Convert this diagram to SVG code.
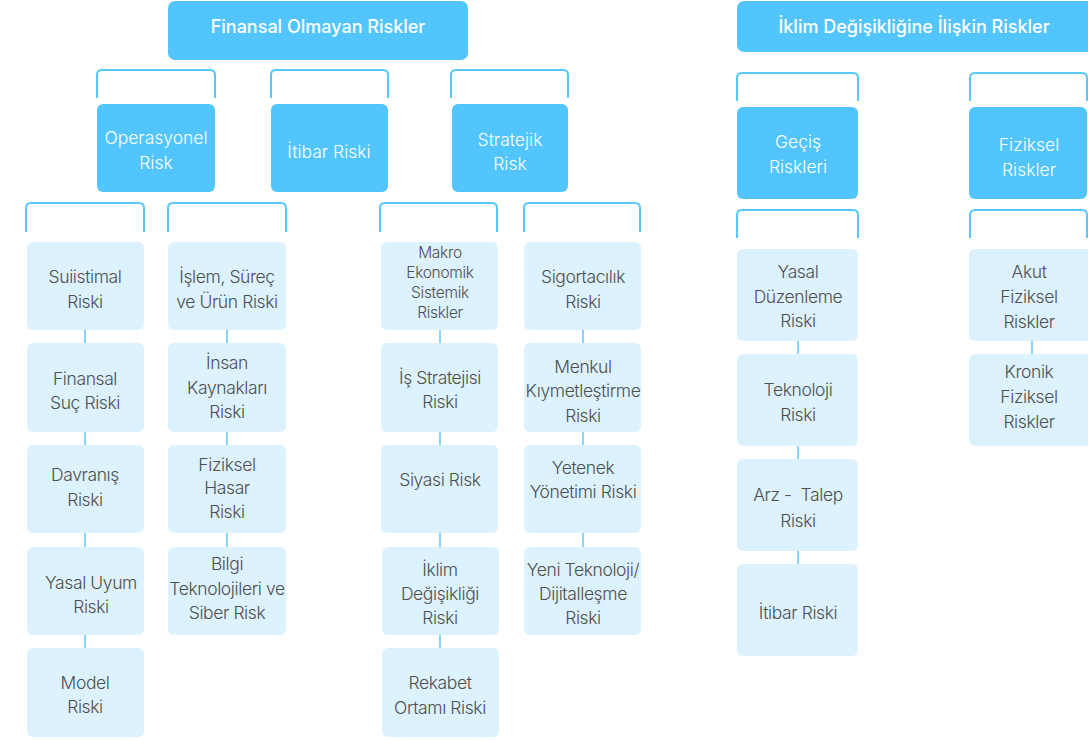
<svg xmlns="http://www.w3.org/2000/svg" width="1088" height="740" viewBox="0 0 1088 740">
<style>
.hd{fill:#52c5fe}
.lt{fill:#dcf2fe}
.br{fill:none;stroke:#5ac7fb;stroke-width:2}
.cn{stroke:#86d6fa;stroke-width:2}
text{font-family:Inter,"Liberation Sans",sans-serif;text-anchor:middle}
.ht{fill:#ffffff;font-size:18px;font-weight:500}
.wt{fill:#ffffff;font-size:17.5px;font-weight:300}
.dt{fill:#4f4f4f;font-size:17.5px;font-weight:300;letter-spacing:-0.4px}
.st{fill:#4f4f4f;font-size:15.5px;font-weight:300;letter-spacing:-0.3px}
</style>
<rect width="1088" height="740" fill="#ffffff"/>
<g id="connectors">
<path class="br" d="M97 98V75Q97 70 102 70H210Q215 70 215 75V98"/>
<path class="br" d="M271 98V75Q271 70 276 70H383Q388 70 388 75V98"/>
<path class="br" d="M451 98V75Q451 70 456 70H563Q568 70 568 75V98"/>
<path class="br" d="M737 101V78Q737 73 742 73H853Q858 73 858 78V101"/>
<path class="br" d="M970 101V78Q970 73 975 73H1082Q1087 73 1087 78V101"/>
<path class="br" d="M26 232V208Q26 203 31 203H139Q144 203 144 208V232"/>
<path class="br" d="M168 232V208Q168 203 173 203H281Q286 203 286 208V232"/>
<path class="br" d="M380 232V208Q380 203 385 203H492Q497 203 497 208V232"/>
<path class="br" d="M524 232V208Q524 203 529 203H635Q640 203 640 208V232"/>
<path class="br" d="M737 238V215Q737 210 742 210H853Q858 210 858 215V238"/>
<path class="br" d="M970 238V215Q970 210 975 210H1082Q1087 210 1087 215V238"/>
<line class="cn" x1="85" y1="330" x2="85" y2="343"/>
<line class="cn" x1="85" y1="432" x2="85" y2="445"/>
<line class="cn" x1="85" y1="533" x2="85" y2="547"/>
<line class="cn" x1="85" y1="635" x2="85" y2="648"/>
<line class="cn" x1="227" y1="330" x2="227" y2="343"/>
<line class="cn" x1="227" y1="432" x2="227" y2="445"/>
<line class="cn" x1="227" y1="533" x2="227" y2="547"/>
<line class="cn" x1="440" y1="330" x2="440" y2="343"/>
<line class="cn" x1="440" y1="432" x2="440" y2="445"/>
<line class="cn" x1="440" y1="533" x2="440" y2="547"/>
<line class="cn" x1="440" y1="635" x2="440" y2="648"/>
<line class="cn" x1="583" y1="330" x2="583" y2="343"/>
<line class="cn" x1="583" y1="432" x2="583" y2="445"/>
<line class="cn" x1="583" y1="533" x2="583" y2="547"/>
<line class="cn" x1="798" y1="341" x2="798" y2="354"/>
<line class="cn" x1="798" y1="446" x2="798" y2="459"/>
<line class="cn" x1="798" y1="551" x2="798" y2="564"/>
<line class="cn" x1="1032" y1="341" x2="1032" y2="354"/>
</g>
<g id="n-finansal-olmayan"><rect class="hd" x="168" y="1" width="300" height="59" rx="7"/><text class="ht" x="318" y="33">Finansal Olmayan Riskler</text></g>
<g id="n-iklim"><rect class="hd" x="737" y="1" width="358" height="51" rx="7"/><text class="ht" x="914" y="33">İklim Değişikliğine İlişkin Riskler</text></g>
<g id="n-operasyonel"><rect class="hd" x="97" y="104" width="118" height="88" rx="6"/><text class="wt" x="156" y="144">Operasyonel</text><text class="wt" x="156" y="169">Risk</text></g>
<g id="n-itibar"><rect class="hd" x="271" y="104" width="117" height="88" rx="6"/><text class="wt" x="329" y="158">İtibar Riski</text></g>
<g id="n-stratejik"><rect class="hd" x="452" y="104" width="116" height="88" rx="6"/><text class="wt" x="510" y="146">Stratejik</text><text class="wt" x="510" y="170">Risk</text></g>
<g id="n-gecis"><rect class="hd" x="737" y="107" width="121" height="92" rx="6"/><text class="wt" x="798" y="148">Geçiş</text><text class="wt" x="798" y="173">Riskleri</text></g>
<g id="n-fiziksel"><rect class="hd" x="969" y="107" width="118" height="92" rx="6"/><text class="wt" x="1029" y="151">Fiziksel</text><text class="wt" x="1029" y="176">Riskler</text></g>

<g id="n-suiistimal"><rect class="lt" x="27" y="242" width="117" height="88" rx="6"/><text class="dt" x="85" y="283">Suiistimal</text><text class="dt" x="85" y="308">Riski</text></g>
<g id="n-finansal-suc"><rect class="lt" x="27" y="343" width="117" height="89" rx="6"/><text class="dt" x="85" y="385">Finansal</text><text class="dt" x="85" y="409">Suç Riski</text></g>
<g id="n-davranis"><rect class="lt" x="27" y="445" width="117" height="88" rx="6"/><text class="dt" x="85" y="481">Davranış</text><text class="dt" x="85" y="506">Riski</text></g>
<g id="n-yasal-uyum"><rect class="lt" x="27" y="547" width="117" height="88" rx="6"/><text class="dt" x="91" y="589">Yasal Uyum</text><text class="dt" x="91" y="613">Riski</text></g>
<g id="n-model"><rect class="lt" x="27" y="648" width="117" height="89" rx="6"/><text class="dt" x="85" y="689">Model</text><text class="dt" x="85" y="713">Riski</text></g>

<g id="n-islem"><rect class="lt" x="168" y="242" width="118" height="88" rx="6"/><text class="dt" x="227" y="283">İşlem, Süreç</text><text class="dt" x="227" y="308">ve Ürün Riski</text></g>
<g id="n-insan"><rect class="lt" x="168" y="343" width="118" height="89" rx="6"/><text class="dt" x="227" y="369">İnsan</text><text class="dt" x="227" y="394">Kaynakları</text><text class="dt" x="227" y="418">Riski</text></g>
<g id="n-fiziksel-hasar"><rect class="lt" x="168" y="445" width="118" height="88" rx="6"/><text class="dt" x="227" y="471">Fiziksel</text><text class="dt" x="227" y="494">Hasar</text><text class="dt" x="227" y="518">Riski</text></g>
<g id="n-bilgi"><rect class="lt" x="168" y="547" width="118" height="88" rx="6"/><text class="dt" x="227" y="570">Bilgi</text><text class="dt" x="227" y="595">Teknolojileri ve</text><text class="dt" x="227" y="619">Siber Risk</text></g>

<g id="n-makro"><rect class="lt" x="381" y="242" width="117" height="88" rx="6"/><text class="st" x="440" y="258">Makro</text><text class="st" x="440" y="278">Ekonomik</text><text class="st" x="440" y="298">Sistemik</text><text class="st" x="440" y="318">Riskler</text></g>
<g id="n-is-stratejisi"><rect class="lt" x="381" y="343" width="117" height="89" rx="6"/><text class="dt" x="440" y="384">İş Stratejisi</text><text class="dt" x="440" y="408">Riski</text></g>
<g id="n-siyasi"><rect class="lt" x="381" y="445" width="117" height="88" rx="6"/><text class="dt" x="440" y="486">Siyasi Risk</text></g>
<g id="n-iklim-degisikligi"><rect class="lt" x="382" y="547" width="117" height="88" rx="6"/><text class="dt" x="440" y="576">İklim</text><text class="dt" x="440" y="600">Değişikliği</text><text class="dt" x="440" y="624">Riski</text></g>
<g id="n-rekabet"><rect class="lt" x="382" y="648" width="117" height="89" rx="6"/><text class="dt" x="440" y="689">Rekabet</text><text class="dt" x="440" y="714">Ortamı Riski</text></g>

<g id="n-sigortacilik"><rect class="lt" x="524" y="242" width="117" height="88" rx="6"/><text class="dt" x="583" y="283">Sigortacılık</text><text class="dt" x="583" y="308">Riski</text></g>
<g id="n-menkul"><rect class="lt" x="524" y="343" width="117" height="89" rx="6"/><text class="dt" x="583" y="373">Menkul</text><text class="dt" x="583" y="397">Kıymetleştirme</text><text class="dt" x="583" y="422">Riski</text></g>
<g id="n-yetenek"><rect class="lt" x="524" y="445" width="117" height="88" rx="6"/><text class="dt" x="583" y="474">Yetenek</text><text class="dt" x="583" y="498">Yönetimi Riski</text></g>
<g id="n-yeni-teknoloji"><rect class="lt" x="524" y="547" width="117" height="88" rx="6"/><text class="dt" x="583" y="576">Yeni Teknoloji/</text><text class="dt" x="583" y="600">Dijitalleşme</text><text class="dt" x="583" y="624">Riski</text></g>

<g id="n-yasal-duzenleme"><rect class="lt" x="737" y="249" width="121" height="92" rx="6"/><text class="dt" x="798" y="278">Yasal</text><text class="dt" x="798" y="303">Düzenleme</text><text class="dt" x="798" y="327">Riski</text></g>
<g id="n-teknoloji"><rect class="lt" x="737" y="354" width="121" height="92" rx="6"/><text class="dt" x="798" y="396">Teknoloji</text><text class="dt" x="798" y="421">Riski</text></g>
<g id="n-arz-talep"><rect class="lt" x="737" y="459" width="121" height="92" rx="6"/><text class="dt" x="798" y="501" xml:space="preserve">Arz -  Talep</text><text class="dt" x="798" y="527">Riski</text></g>
<g id="n-itibar-2"><rect class="lt" x="737" y="564" width="121" height="92" rx="6"/><text class="dt" x="798" y="619">İtibar Riski</text></g>

<g id="n-akut"><rect class="lt" x="969" y="249" width="125" height="92" rx="6"/><text class="dt" x="1029" y="278">Akut</text><text class="dt" x="1029" y="303">Fiziksel</text><text class="dt" x="1029" y="328">Riskler</text></g>
<g id="n-kronik"><rect class="lt" x="969" y="354" width="125" height="92" rx="6"/><text class="dt" x="1029" y="378">Kronik</text><text class="dt" x="1029" y="403">Fiziksel</text><text class="dt" x="1029" y="428">Riskler</text></g>
</svg>
